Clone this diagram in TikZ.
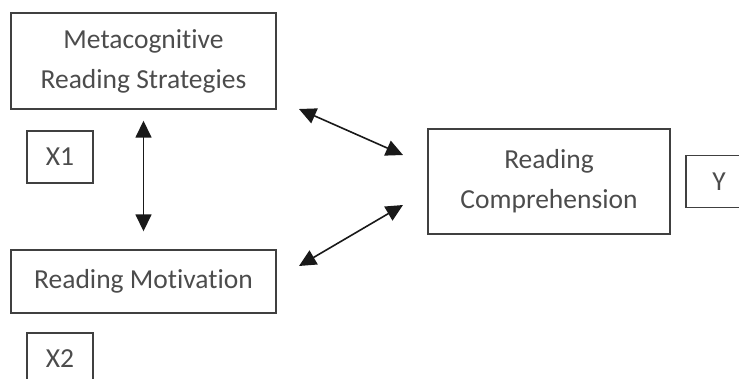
\documentclass[tikz,border=0pt]{standalone}
\usepackage{fontspec}
\setmainfont[Ligatures={NoCommon}]{Carlito}
\usetikzlibrary{arrows.meta}

\tikzset{
  varbox/.style={draw=black!75, line width=1.4pt, text=black!70, align=center,
    font=\fontsize{27.5}{40}\selectfont},
  labbox/.style={varbox, minimum width=66pt, minimum height=52pt},
  link/.style={{Triangle[length=17pt,width=16pt]}-{Triangle[length=17pt,width=16pt]},
    line width=1.6pt, black!90}
}

\begin{document}
\begin{tikzpicture}[x=1pt,y=-1pt]
      \clip (0,0) rectangle (739,378);
      \node[varbox, minimum width=265pt, minimum height=96pt] (mrs) at (143.5,61)
        {Metacognitive\\Reading Strategies};
      \node[varbox, minimum width=265pt, minimum height=63pt] (rm) at (143.5,281.5)
        {Reading Motivation};
      \node[varbox, minimum width=242pt, minimum height=105pt] (rc) at (549,181.5)
        {Reading\\Comprehension};
      \node[labbox] (x1) at (60,157) {X1};
      \node[labbox] (x2) at (60,359) {X2};
      \node[labbox] (y) at (719,181.5) {Y};
      % links
      \coordinate (a1) at (299,109);
      \coordinate (a2) at (403,155);
      \coordinate (b1) at (299,266);
      \coordinate (b2) at (403,205);
      \draw[link, shorten <=11pt, shorten >=18pt] (mrs.south) -- (rm.north);
      \draw[link] (a1) -- (a2);
      \draw[link] (b1) -- (b2);
    \end{tikzpicture}
\end{document}
